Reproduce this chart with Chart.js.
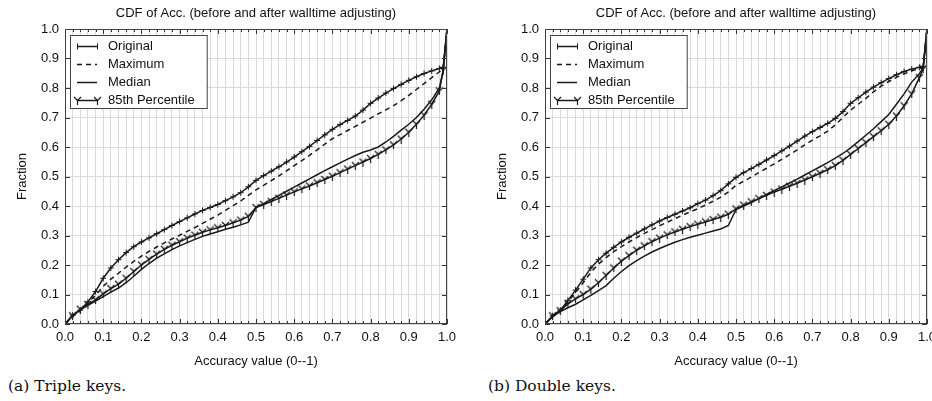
<!DOCTYPE html>
<html><head><meta charset="utf-8">
<script src="https://cdn.jsdelivr.net/npm/chart.js@4.4.1/dist/chart.umd.min.js"></script>
<style>
html,body{margin:0;padding:0;background:#fff;width:932px;height:401px;overflow:hidden;position:relative}
.panel{position:absolute;top:0;width:466px;height:372px}
.cap{position:absolute;top:376px;font-family:"DejaVu Serif","Liberation Serif",serif;font-size:15.5px;color:#111;white-space:nowrap;line-height:20px}
</style></head><body>
<div class="panel" style="left:0"><canvas id="c1" width="466" height="372"></canvas></div>
<div class="panel" style="left:480px"><canvas id="c2" width="466" height="372"></canvas></div>
<div class="cap" style="left:8px">(a) Triple keys.</div>
<div class="cap" style="left:488px">(b) Double keys.</div>
<script>
const chartTitle = "CDF of Acc. (before and after walltime adjusting)";
const xTitle = "Accuracy value (0--1)";
const yTitle = "Fraction";
const seriesNames = ["Original", "Maximum", "Median", "85th Percentile"];
const accuracy = [0,.02,.04,.06,.08,.10,.12,.14,.16,.18,.20,.22,.24,.26,.28,.30,.32,.34,.36,.38,.40,.42,.44,.46,.48,.50,.52,.54,.56,.58,.60,.62,.64,.66,.68,.70,.72,.74,.76,.78,.80,.82,.84,.86,.88,.90,.92,.94,.96,.98,.99,1.0];

// (a) Triple keys
const tripleOriginal = [0,.03,.047,.075,.11,.155,.19,.218,.242,.262,.278,.292,.306,.32,.334,.347,.36,.373,.385,.395,.405,.418,.431,.445,.465,.487,.503,.518,.533,.549,.566,.584,.602,.622,.641,.66,.676,.69,.705,.725,.748,.766,.783,.798,.812,.826,.838,.849,.858,.866,.87,1.0];
const tripleMaximum = [0,.025,.047,.07,.098,.128,.152,.172,.193,.212,.23,.246,.261,.275,.288,.301,.314,.327,.341,.355,.369,.385,.401,.417,.436,.455,.47,.486,.502,.519,.537,.554,.572,.59,.61,.628,.642,.656,.67,.684,.698,.712,.726,.74,.757,.775,.795,.815,.835,.855,.862,1.0];
const tripleMedian = [0,.028,.048,.063,.078,.093,.108,.122,.14,.162,.185,.205,.223,.238,.252,.265,.276,.287,.297,.305,.313,.321,.328,.336,.345,.395,.408,.422,.436,.45,.464,.478,.492,.506,.52,.533,.546,.559,.571,.582,.59,.6,.617,.636,.657,.677,.7,.728,.76,.8,.86,1.0];
const triple85th = [0,.028,.05,.066,.082,.102,.12,.135,.155,.178,.2,.219,.237,.253,.267,.279,.291,.301,.311,.319,.326,.334,.343,.352,.365,.395,.405,.415,.426,.437,.448,.458,.468,.479,.49,.501,.513,.525,.537,.549,.561,.575,.59,.607,.627,.65,.677,.708,.745,.79,.86,1.0];

// (b) Double keys
const doubleOriginal = [0,.028,.047,.08,.115,.152,.19,.218,.24,.26,.278,.294,.308,.322,.336,.349,.361,.372,.383,.394,.408,.42,.435,.452,.475,.497,.513,.527,.541,.556,.571,.587,.603,.62,.637,.652,.666,.68,.697,.72,.748,.767,.786,.803,.818,.832,.845,.856,.864,.87,.872,1.0];
const doubleMaximum = [0,.026,.045,.075,.107,.14,.175,.203,.225,.245,.262,.278,.293,.307,.32,.333,.345,.357,.369,.38,.391,.403,.416,.43,.448,.47,.484,.498,.513,.528,.543,.558,.574,.59,.607,.623,.638,.654,.675,.7,.725,.745,.765,.787,.806,.822,.836,.848,.858,.866,.869,1.0];
const doubleMedian = [0,.025,.042,.055,.067,.082,.097,.113,.13,.155,.178,.198,.215,.23,.244,.256,.267,.277,.286,.294,.301,.308,.315,.322,.334,.388,.4,.412,.425,.439,.452,.465,.478,.491,.505,.519,.533,.547,.562,.578,.597,.618,.64,.662,.686,.71,.745,.78,.82,.848,.87,1.0];
const double85th = [0,.028,.045,.068,.085,.1,.118,.14,.165,.19,.213,.232,.25,.265,.279,.291,.302,.312,.321,.33,.338,.346,.354,.362,.372,.39,.403,.414,.425,.436,.447,.457,.467,.477,.488,.499,.511,.523,.537,.555,.575,.595,.615,.635,.655,.677,.705,.74,.78,.835,.865,1.0];

const INK = '#1a1a1a';
const FONT = '"Liberation Sans", Arial, Helvetica, sans-serif';

// "Y" marker for 85th Percentile
const yMark = document.createElement('canvas');
yMark.width = 9; yMark.height = 9;
(function(){
  const c = yMark.getContext('2d');
  c.strokeStyle = INK; c.lineWidth = 1.2;
  c.beginPath();
  c.moveTo(4.5,4.5); c.lineTo(1,1);
  c.moveTo(4.5,4.5); c.lineTo(8,1);
  c.moveTo(4.5,4.5); c.lineTo(4.5,9);
  c.stroke();
})();

function pts(arr){ return accuracy.map((x,i)=>({x:x, y:arr[i]})); }

const titlePlugin = {
  id: 'areaTitle',
  afterDraw(chart){
    const {ctx, chartArea:a} = chart;
    ctx.save();
    ctx.font = '13px ' + FONT;
    ctx.fillStyle = '#111';
    ctx.textAlign = 'center';
    ctx.textBaseline = 'middle';
    ctx.fillText(chartTitle, (a.left + a.right)/2, 13);
    ctx.restore();
  }
};

const framePlugin = {
  id: 'frame',
  afterDatasetsDraw(chart){
    const {ctx, chartArea:a, scales} = chart;
    ctx.save();
    ctx.strokeStyle = '#333'; ctx.lineWidth = 1;
    ctx.beginPath();
    for (let i=0;i<=50;i++){
      const v = i/50;
      const px = Math.round(scales.x.getPixelForValue(v))+0.5;
      const len = (i%5===0)?5:3;
      ctx.moveTo(px, a.bottom); ctx.lineTo(px, a.bottom-len);
      ctx.moveTo(px, a.top); ctx.lineTo(px, a.top+len);
    }
    for (let i=0;i<=10;i++){
      const py = Math.round(scales.y.getPixelForValue(i/10))+0.5;
      ctx.moveTo(a.left, py); ctx.lineTo(a.left+5, py);
      ctx.moveTo(a.right, py); ctx.lineTo(a.right-5, py);
    }
    ctx.stroke();
    ctx.strokeStyle = '#444';
    ctx.strokeRect(Math.round(a.left)+0.5, Math.round(a.top)+0.5, Math.round(a.right-a.left)-1, Math.round(a.bottom-a.top)-1);
    ctx.restore();
  }
};

const legendPlugin = {
  id: 'boxLegend',
  afterDraw(chart){
    const {ctx, chartArea:a} = chart;
    const x0 = Math.round(a.left)+5, y0 = Math.round(a.top)+6;
    ctx.save();
    ctx.font = '13px ' + FONT;
    let maxW = 0;
    chart.data.datasets.forEach(d=>{ maxW = Math.max(maxW, ctx.measureText(d.label).width); });
    const w = 38 + maxW + 12, h = 73;
    ctx.fillStyle = '#fff';
    ctx.fillRect(x0, y0, w, h);
    ctx.strokeStyle = '#444'; ctx.lineWidth = 1;
    ctx.strokeRect(x0+0.5, y0+0.5, w, h);
    chart.data.datasets.forEach((d,i)=>{
      const y = y0 + 11 + i*18 + 0.5;
      const xa = x0+7, xb = x0+27;
      ctx.strokeStyle = d.borderColor; ctx.lineWidth = d.borderWidth;
      ctx.setLineDash(d.borderDash || []);
      ctx.beginPath(); ctx.moveTo(xa,y); ctx.lineTo(xb,y); ctx.stroke();
      ctx.setLineDash([]);
      if (d.pointStyle === 'cross'){
        ctx.lineWidth = 1;
        ctx.beginPath();
        [xa,xb].forEach(px=>{ ctx.moveTo(px+0.5,y-3); ctx.lineTo(px+0.5,y+3); });
        ctx.stroke();
      } else if (d.pointStyle === yMark){
        [xa,xb].forEach(px=>{ ctx.drawImage(yMark, px-4, y-4.5); });
      }
      ctx.fillStyle = '#111';
      ctx.textBaseline = 'middle';
      ctx.fillText(d.label, x0+38, y);
    });
    ctx.restore();
  }
};

function makeChart(id, data){
  const styles = [
    {borderDash:[], pointStyle:'cross', pointRadius:3},
    {borderDash:[5,4], pointStyle:false, pointRadius:0},
    {borderDash:[], pointStyle:false, pointRadius:0},
    {borderDash:[], pointStyle:yMark, pointRadius:4}
  ];
  const datasets = data.map((arr,i)=>({
    label: seriesNames[i],
    data: pts(arr),
    borderColor: INK,
    backgroundColor: INK,
    borderWidth: 1.5,
    borderDash: styles[i].borderDash,
    pointStyle: styles[i].pointStyle,
    pointRadius: styles[i].pointRadius,
    pointHoverRadius: styles[i].pointRadius,
    pointBorderColor: INK,
    pointBorderWidth: 1,
    fill: false,
    tension: 0
  }));
  return new Chart(document.getElementById(id), {
    type: 'line',
    data: { datasets },
    plugins: [framePlugin, legendPlugin, titlePlugin],
    options: {
      responsive: false,
      animation: false,
      devicePixelRatio: 1,
      layout: { padding: {left:0, right:19, top:29, bottom:0} },
      plugins: {
        legend: { display:false },
        tooltip: { enabled:false },
        title: { display:false }
      },
      scales: {
        x: {
          type:'linear', min:0, max:1,
          border:{display:false},
          grid:{color:'#dadada', lineWidth:1, drawTicks:false},
          ticks:{stepSize:0.02, autoSkip:false, maxRotation:0, padding:6, color:'#111',
                 font:{family:FONT, size:13},
                 callback:(v)=>{ const k=Math.round(v*100); return (k%10===0)?(k/100).toFixed(1):''; }},
          title:{display:true, text:xTitle, color:'#111', font:{family:FONT, size:13}, padding:{top:4, bottom:3}},
          afterFit:(s)=>{ s.height = 48; }
        },
        y: {
          type:'linear', min:0, max:1,
          border:{display:false},
          grid:{color:'#dadada', lineWidth:1, drawTicks:false},
          ticks:{stepSize:0.1, padding:6, color:'#111', font:{family:FONT, size:13},
                 callback:(v)=>(Math.round(v*10)/10).toFixed(1)},
          title:{display:true, text:yTitle, color:'#111', font:{family:FONT, size:13}, padding:{top:15, bottom:0}},
          afterFit:(s)=>{ s.width = 65; }
        }
      }
    }
  });
}

makeChart('c1', [tripleOriginal, tripleMaximum, tripleMedian, triple85th]);
makeChart('c2', [doubleOriginal, doubleMaximum, doubleMedian, double85th]);
</script>
</body></html>
